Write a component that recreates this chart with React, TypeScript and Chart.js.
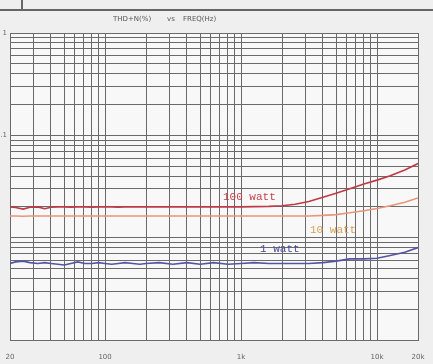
import React, { useEffect, useRef } from "react";
import { Chart, registerables } from "chart.js";
Chart.register(...registerables);

const freqs = [20, 22, 25, 28, 32, 36, 40, 45, 50, 56, 63, 71, 80, 90, 100, 112, 125, 140, 160, 180, 200, 250, 315, 400, 500, 630, 800, 1000, 1250, 1600, 2000, 2500, 3150, 4000, 5000, 6300, 8000, 10000, 12500, 16000, 20000];

const watt100 = [0.02, 0.0197, 0.019, 0.0198, 0.02, 0.0192, 0.0198, 0.02, 0.02, 0.0199, 0.02, 0.02, 0.0199, 0.02, 0.02, 0.02, 0.0199, 0.02, 0.02, 0.02, 0.02, 0.02, 0.02, 0.02, 0.02, 0.02, 0.02, 0.02, 0.0201, 0.0202, 0.0205, 0.0212, 0.0226, 0.0248, 0.0272, 0.03, 0.0335, 0.0365, 0.0402, 0.0458, 0.053];

const watt10 = [0.0163, 0.0163, 0.0162, 0.0163, 0.0163, 0.0163, 0.0163, 0.0163, 0.0163, 0.0163, 0.0163, 0.0163, 0.0163, 0.0163, 0.0163, 0.0163, 0.0163, 0.0163, 0.0163, 0.0163, 0.0163, 0.0163, 0.0163, 0.0163, 0.0163, 0.0163, 0.0163, 0.0163, 0.0163, 0.0163, 0.0163, 0.0163, 0.0163, 0.0165, 0.0168, 0.0175, 0.0183, 0.0193, 0.0205, 0.0222, 0.0244];

const watt1 = [0.0056, 0.0058, 0.0059, 0.0057, 0.0056, 0.0057, 0.0056, 0.0055, 0.0054, 0.0056, 0.0058, 0.0056, 0.0056, 0.0057, 0.0056, 0.0055, 0.0056, 0.0057, 0.0056, 0.0055, 0.0056, 0.0057, 0.0055, 0.0057, 0.0055, 0.0057, 0.0055, 0.0056, 0.0057, 0.0056, 0.0056, 0.0056, 0.0056, 0.0057, 0.0059, 0.0062, 0.0062, 0.0063, 0.0067, 0.0072, 0.008];

const seriesNames = ["100 watt", "10 watt", "1 watt"];
const seriesColors = ["#bf3a46", "#e8957a", "#5454a4"];
const labelColors = ["#c4404a", "#d6a258", "#4c4c9c"];
const labelFreqs = [736, 3214, 1378];
const labelValues = [0.0249, 0.0119, 0.00774];

const xTicks = [20, 30, 40, 50, 60, 70, 80, 90, 100, 200, 300, 400, 500, 600, 700, 800, 900, 1000, 2000, 3000, 4000, 5000, 6000, 7000, 8000, 9000, 10000, 20000];
const xTickLabels: Record<number, string> = { 20: "20", 100: "100", 1000: "1k", 10000: "10k", 20000: "20k" };
const yTicks = [0.001, 0.002, 0.003, 0.004, 0.005, 0.006, 0.007, 0.008, 0.009, 0.01, 0.02, 0.03, 0.04, 0.05, 0.06, 0.07, 0.08, 0.09, 0.1, 0.2, 0.3, 0.4, 0.5, 0.6, 0.7, 0.8, 0.9, 1];
const yTickLabels: Record<number, string> = { 1: "1", 0.1: ".1" };
const titleParts = ["THD+N(%)", "vs", "FREQ(Hz)"];

export default function App() {
  const ref = useRef<HTMLCanvasElement>(null);
  useEffect(() => {
    if (!ref.current) return;
    const all = [watt100, watt10, watt1];
    const decor = {
      id: "decor",
      beforeDraw(chart: any) {
        const { ctx, chartArea } = chart;
        ctx.save();
        ctx.fillStyle = "#efefef";
        ctx.fillRect(0, 0, chart.width, chart.height);
        ctx.fillStyle = "#f8f8f8";
        ctx.fillRect(chartArea.left, chartArea.top, chartArea.right - chartArea.left, chartArea.bottom - chartArea.top);
        ctx.strokeStyle = "#666";
        ctx.lineWidth = 2;
        ctx.beginPath();
        ctx.moveTo(0, 10);
        ctx.lineTo(chart.width, 10);
        ctx.moveTo(22, 0);
        ctx.lineTo(22, 10);
        ctx.stroke();
        ctx.fillStyle = "#555";
        ctx.font = "7px 'DejaVu Sans'";
        ctx.textBaseline = "middle";
        ctx.textAlign = "left";
        ctx.fillText(titleParts[0], 113, 19);
        ctx.fillText(titleParts[1], 167, 19);
        ctx.fillText(titleParts[2], 183, 19);
        ctx.restore();
      },
      afterDatasetsDraw(chart: any) {
        const { ctx, scales } = chart;
        ctx.save();
        ctx.font = "11px 'Liberation Mono'";
        ctx.textBaseline = "middle";
        ctx.textAlign = "left";
        seriesNames.forEach((n, i) => {
          ctx.fillStyle = labelColors[i];
          ctx.fillText(n, scales.x.getPixelForValue(labelFreqs[i]), scales.y.getPixelForValue(labelValues[i]));
        });
        ctx.restore();
      },
    };
    const chart = new Chart(ref.current, {
      type: "line",
      data: {
        datasets: all.map((vals, i) => ({
          label: seriesNames[i],
          data: freqs.map((f, j) => ({ x: f, y: vals[j] })),
          borderColor: seriesColors[i],
          borderWidth: 1.6,
          pointRadius: 0,
          tension: 0,
          fill: false,
        })),
      },
      options: {
        animation: false,
        responsive: true,
        maintainAspectRatio: false,
        layout: { padding: { top: 33, right: 15, left: 0, bottom: 0 } },
        plugins: { legend: { display: false }, tooltip: { enabled: false }, title: { display: false } },
        scales: {
          x: {
            type: "logarithmic",
            min: 20,
            max: 20000,
            afterFit: (s: any) => { s.height = 24; s.paddingLeft = 0; s.paddingRight = 0; },
            afterBuildTicks: (s: any) => { s.ticks = xTicks.map((v) => ({ value: v })); },
            grid: { color: "#6a6a6a", lineWidth: 1, drawTicks: false },
            border: { color: "#6a6a6a" },
            ticks: {
              autoSkip: false,
              maxRotation: 0,
              padding: 13,
              color: "#666",
              font: { size: 7, family: "'DejaVu Sans'" },
              callback: (v: any) => xTickLabels[Number(v)] ?? "",
            },
          },
          y: {
            type: "logarithmic",
            min: 0.001,
            max: 1,
            afterFit: (s: any) => { s.width = 10; s.paddingTop = 0; s.paddingBottom = 0; },
            afterBuildTicks: (s: any) => { s.ticks = yTicks.map((v) => ({ value: v })); },
            grid: { color: "#6a6a6a", lineWidth: 1, drawTicks: false },
            border: { color: "#6a6a6a" },
            ticks: {
              autoSkip: false,
              padding: 3,
              color: "#666",
              font: { size: 7, family: "'DejaVu Sans'" },
              callback: (v: any) => yTickLabels[Number(v)] ?? "",
            },
          },
        },
      },
      plugins: [decor],
    } as any);
    return () => chart.destroy();
  }, []);
  return (
    <div style={{ position: "absolute", left: 0, top: 0, width: 433, height: 364 }}>
      <canvas ref={ref} />
    </div>
  );
}
